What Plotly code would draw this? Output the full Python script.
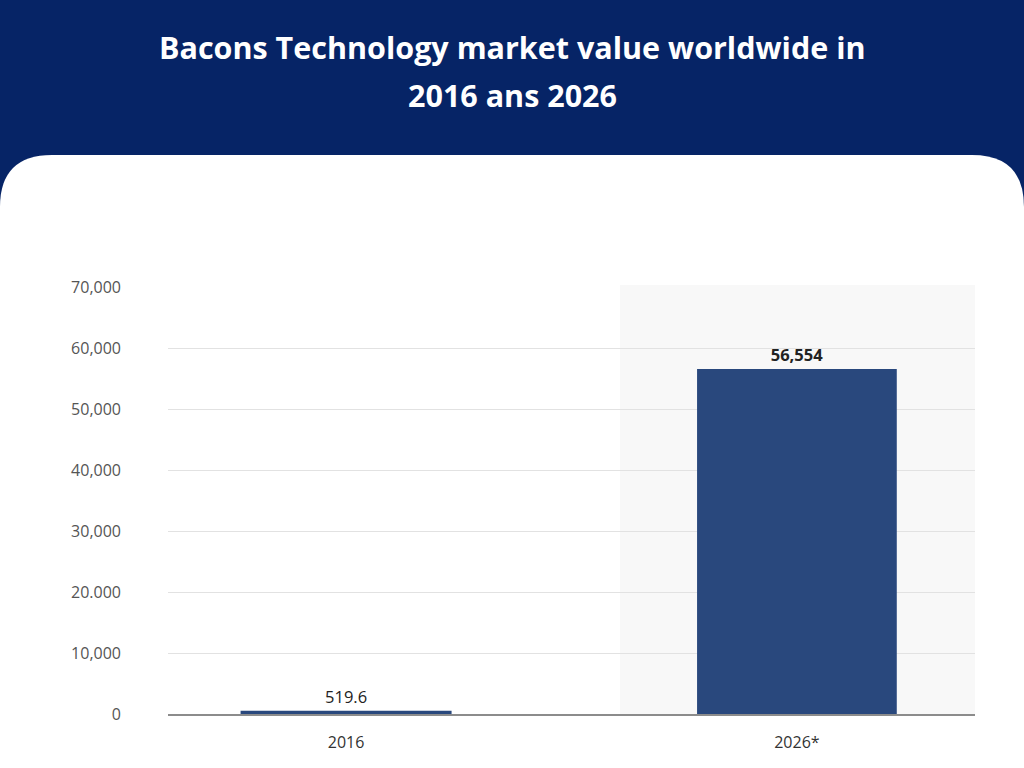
import plotly.graph_objects as go

# ---- data ----
categories = ["2016", "2026*"]
values = [519.6, 56554]
value_labels = ["519.6", "<b>56,554</b>"]
tick_values = [0, 10000, 20000, 30000, 40000, 50000, 60000, 70000]
tick_labels = ["0", "10,000", "20.000", "30,000", "40,000", "50,000", "60,000", "70,000"]
title_lines = ["Bacons Technology market value worldwide in", "2016 ans 2026"]

W, H = 1024, 768
L, R, T, B = 168, 49, 287, 54
pw, ph = W - L - R, H - T - B

def px(x):
    return (x - L) / pw

def py(y):
    return (H - B - y) / ph

NAVY = "#062466"
BAR = "#29487d"

fig = go.Figure()
fig.add_trace(go.Bar(
    x=categories, y=values,
    width=[0.468, 0.443],
    marker=dict(color=BAR, line=dict(width=0)),
    text=value_labels, textposition="outside",
    textfont=dict(family="Open Sans", size=16.5, color="#222222"),
    cliponaxis=False,
    hoverinfo="skip",
))

# white rounded card
x0, x1 = px(0), px(W)
yt, yb = py(155), py(H)
dx, dy = 52 / pw, 52 / ph
card = (f"M {x0},{yb} L {x0},{yt-dy} Q {x0},{yt} {x0+dx},{yt} "
        f"L {x1-dx},{yt} Q {x1},{yt} {x1},{yt-dy} L {x1},{yb} Z")
shapes = [
    dict(type="path", xref="paper", yref="paper", path=card,
         fillcolor="white", line=dict(width=0), layer="below"),
    dict(type="rect", xref="paper", yref="paper", x0=px(620), x1=1, y0=0, y1=py(285),
         fillcolor="#f8f8f8", line=dict(width=0), layer="below"),
]

annotations = [
    dict(text=f"<b>{title_lines[0]}</b>", x=px(512), y=py(47), xref="paper", yref="paper",
         showarrow=False, xanchor="center", yanchor="middle",
         font=dict(family="Open Sans", size=30.5, color="white")),
    dict(text=f"<b>{title_lines[1]}</b>", x=px(512), y=py(95), xref="paper", yref="paper",
         showarrow=False, xanchor="center", yanchor="middle",
         font=dict(family="Open Sans", size=30.5, color="white")),
]

fig.update_layout(
    width=W, height=H,
    margin=dict(l=L, r=R, t=T, b=B, pad=0),
    paper_bgcolor=NAVY,
    plot_bgcolor="rgba(0,0,0,0)",
    showlegend=False,
    shapes=shapes,
    annotations=annotations,
    xaxis=dict(
        type="category", range=[-0.395, 1.395],
        showgrid=False, showline=True, linecolor="#8c8c8c", linewidth=2,
        ticks="", ticklabelstandoff=13,
        tickfont=dict(family="Open Sans", size=16, color="#333333"),
        fixedrange=True,
    ),
    yaxis=dict(
        range=[0, 70000], tickvals=tick_values, ticktext=tick_labels,
        showgrid=True, gridcolor="#e2e2e2", gridwidth=1,
        zeroline=False, showline=False, ticks="",
        ticklabelstandoff=46,
        tickfont=dict(family="Open Sans", size=16, color="#555555"),
        fixedrange=True,
    ),
)

fig.write_html(
    "out.html",
    config={"displayModeBar": False},
    post_script="document.body.style.margin='0';document.body.style.overflow='hidden';",
)
